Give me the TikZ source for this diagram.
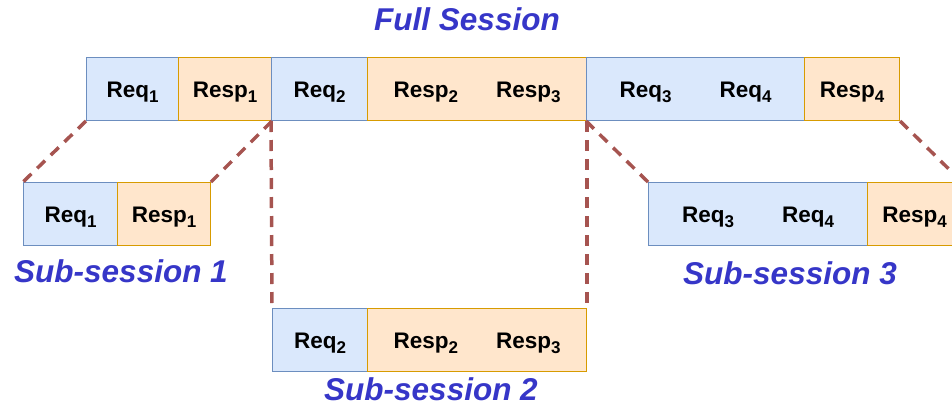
\documentclass[tikz,border=0pt]{standalone}
\usepackage{fontspec}
\setmainfont{Liberation Sans}
\usetikzlibrary{positioning}

\definecolor{reqfill}{HTML}{DAE8FC}
\definecolor{reqline}{HTML}{6C8EBF}
\definecolor{respfill}{HTML}{FFE6CC}
\definecolor{respline}{HTML}{D79B00}
\definecolor{titleblue}{RGB}{54,54,200}
\definecolor{linkred}{RGB}{166,84,80}

% small lowered index after Req / Resp
\newcommand{\ix}[1]{\raisebox{-5pt}{\fontsize{17}{17}\selectfont #1}}

\tikzset{
  cell/.style={rectangle, anchor=north west, inner sep=0pt,
    minimum height=63pt, line width=1pt, text height=17pt, text depth=0pt,
    font=\fontsize{22.5}{26}\selectfont\bfseries},
  reqcell/.style={cell, fill=reqfill, draw=reqline},
  respcell/.style={cell, fill=respfill, draw=respline},
  title/.style={text=titleblue, font=\fontsize{31.5}{36}\selectfont\bfseries\itshape},
  link/.style={draw=linkred, line width=3.5pt, dash pattern=on 11pt off 8pt}
}

\begin{document}
\begin{tikzpicture}[x=1pt, y=-1pt]
    \useasboundingbox (0,0) rectangle (952,413);
    \clip (0,0) rectangle (952,413);

    % full session row
    \node[reqcell,  minimum width=92pt]  (treq1)   at (86,57)  {Req\ix{1}};
    \node[respcell, minimum width=93pt]  (tresp1)  at (178,57) {Resp\ix{1}};
    \node[reqcell,  minimum width=96pt]  (treq2)   at (271,57) {Req\ix{2}};
    \node[respcell, minimum width=219pt] (tresp23) at (367,57) {Resp\ix{2}\hspace{38pt}Resp\ix{3}};
    \node[reqcell,  minimum width=218pt] (treq34)  at (586,57) {Req\ix{3}\hspace{48pt}Req\ix{4}};
    \node[respcell, minimum width=95pt]  (tresp4)  at (804,57) {Resp\ix{4}};
    \node[title] (tfull) at (467,19) {Full Session};

    % sub-session 1
    \node[reqcell,  minimum width=94pt] (sreq1)  at (23,182)  {Req\ix{1}};
    \node[respcell, minimum width=93pt] (sresp1) at (117,182) {Resp\ix{1}};
    \node[title] (tsub1) at (121,271) {Sub-session 1};

    % sub-session 2
    \node[reqcell,  minimum width=95pt]  (sreq2)   at (272,308) {Req\ix{2}};
    \node[respcell, minimum width=219pt] (sresp23) at (367,308) {Resp\ix{2}\hspace{38pt}Resp\ix{3}};
    \node[title] (tsub2) at (431,389) {Sub-session 2};

    % sub-session 3
    \node[reqcell,  minimum width=219pt] (sreq34) at (648,182) {Req\ix{3}\hspace{48pt}Req\ix{4}};
    \node[respcell, minimum width=94pt]  (sresp4) at (867,182) {Resp\ix{4}};
    \node[title] (tsub3) at (790,273) {Sub-session 3};

    % dashed links from the full row down to the pieces
    \draw[link] (treq1.south west)   -- (sreq1.north west);
    \draw[link] (tresp1.south east)  -- (sresp1.north east);
    \draw[link] (treq2.south west)   -- (sreq2.north west);
    \draw[link] (tresp23.south east) -- (sresp23.north east);
    \draw[link] (treq34.south west)  -- (sreq34.north west);
    \draw[link] (tresp4.south east)  -- (sresp4.north east);
\end{tikzpicture}
\end{document}
